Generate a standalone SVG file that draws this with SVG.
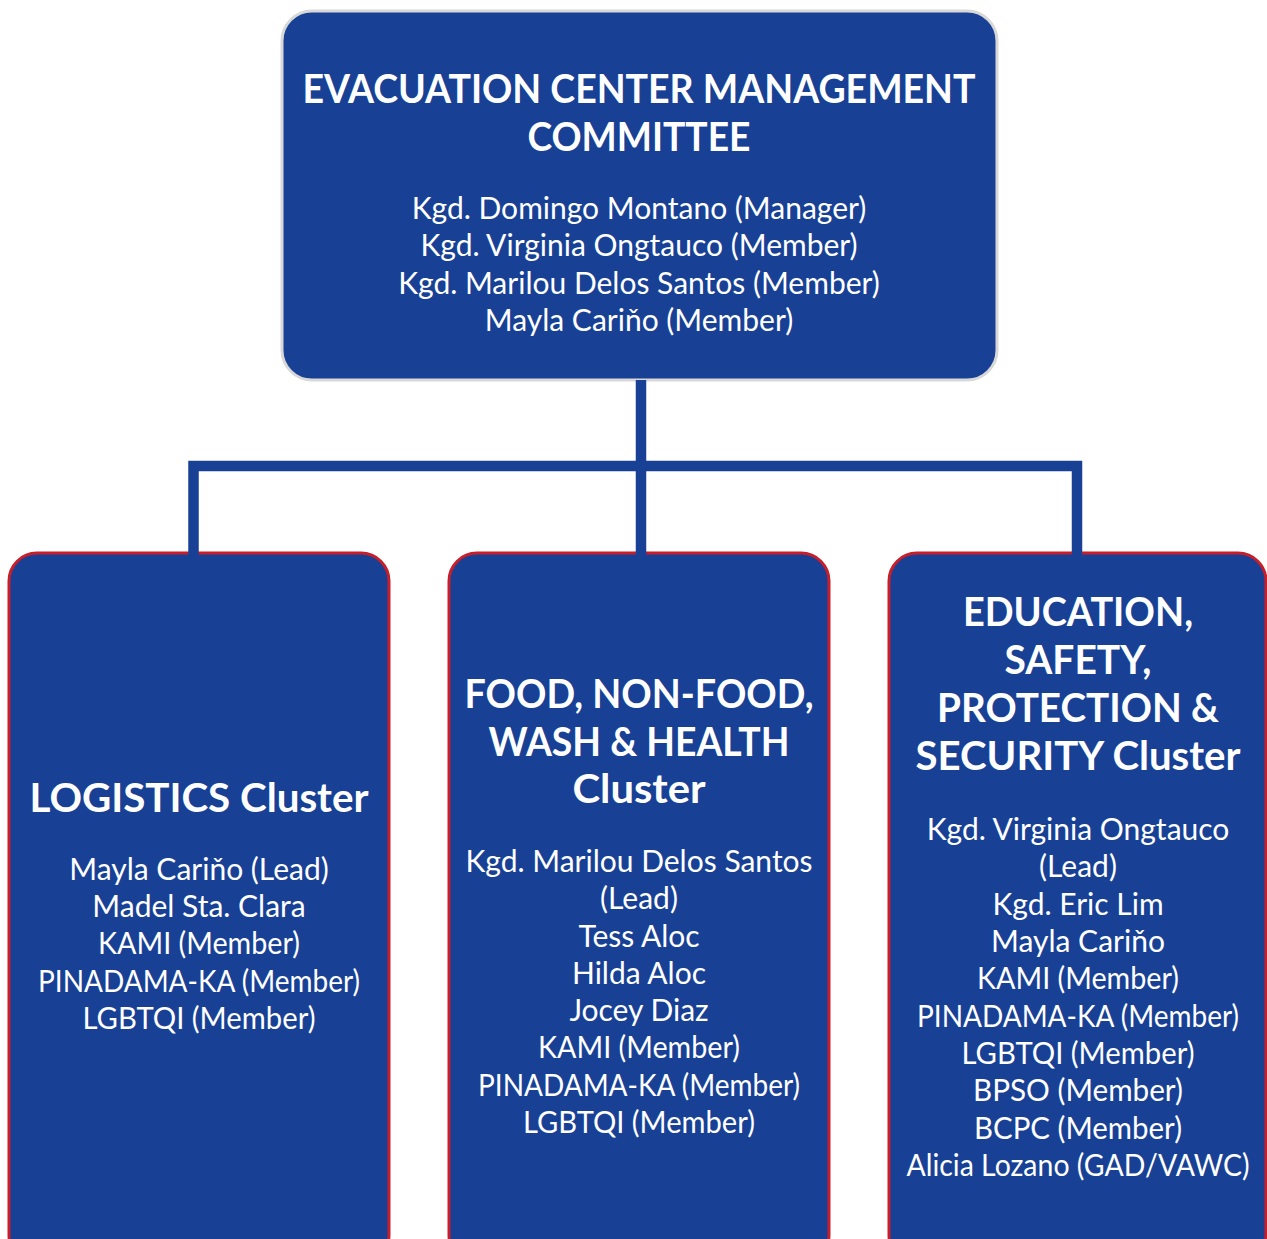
<svg xmlns="http://www.w3.org/2000/svg" width="1267" height="1239" viewBox="0 0 1267 1239">
<style>
.box{fill:#184196}
.top{stroke:#d8d8d8;stroke-width:3}
.clu{stroke:#c81e2a;stroke-width:3}
.t{font-family:Lato,"Noto Sans",sans-serif;fill:#ffffff;text-anchor:middle}
.h{font-weight:bold;font-size:40px}
.b{font-size:30px}
.conn{fill:none;stroke:#184196;stroke-width:10.5}
</style>
<rect width="1267" height="1239" fill="#ffffff"/>
<g id="node-top">
<rect class="box top" x="282" y="11" width="715" height="369" rx="30"/>
<text class="t h" x="639" y="103" textLength="673" lengthAdjust="spacingAndGlyphs">EVACUATION CENTER MANAGEMENT</text>
<text class="t h" x="639" y="151" textLength="223" lengthAdjust="spacingAndGlyphs">COMMITTEE</text>
<text class="t b" x="639" y="219">Kgd. Domingo Montano (Manager)</text>
<text class="t b" x="639" y="256">Kgd. Virginia Ongtauco (Member)</text>
<text class="t b" x="639" y="294">Kgd. Marilou Delos Santos (Member)</text>
<text class="t b" x="639" y="331">Mayla Cariňo (Member)</text>
</g>
<g id="node-logistics">
<rect class="box clu" x="9" y="553" width="380" height="710" rx="28"/>
<text class="t h" x="199" y="812" textLength="339" lengthAdjust="spacingAndGlyphs">LOGISTICS Cluster</text>
<text class="t b" x="199" y="880">Mayla Cariňo (Lead)</text>
<text class="t b" x="199" y="917">Madel Sta. Clara</text>
<text class="t b" x="199" y="954" textLength="202" lengthAdjust="spacingAndGlyphs">KAMI (Member)</text>
<text class="t b" x="199" y="992" textLength="322" lengthAdjust="spacingAndGlyphs">PINADAMA-KA (Member)</text>
<text class="t b" x="199" y="1029" textLength="233" lengthAdjust="spacingAndGlyphs">LGBTQI (Member)</text>
</g>
<g id="node-food">
<rect class="box clu" x="449" y="553" width="380" height="710" rx="28"/>
<text class="t h" x="639" y="708" textLength="349" lengthAdjust="spacingAndGlyphs">FOOD, NON-FOOD,</text>
<text class="t h" x="639" y="756" textLength="301" lengthAdjust="spacingAndGlyphs">WASH &amp; HEALTH</text>
<text class="t h" x="639" y="803" textLength="133" lengthAdjust="spacingAndGlyphs">Cluster</text>
<text class="t b" x="639" y="872">Kgd. Marilou Delos Santos</text>
<text class="t b" x="639" y="909">(Lead)</text>
<text class="t b" x="639" y="947">Tess Aloc</text>
<text class="t b" x="639" y="984">Hilda Aloc</text>
<text class="t b" x="639" y="1021">Jocey Diaz</text>
<text class="t b" x="639" y="1058" textLength="202" lengthAdjust="spacingAndGlyphs">KAMI (Member)</text>
<text class="t b" x="639" y="1096" textLength="322" lengthAdjust="spacingAndGlyphs">PINADAMA-KA (Member)</text>
<text class="t b" x="639" y="1133" textLength="232" lengthAdjust="spacingAndGlyphs">LGBTQI (Member)</text>
</g>
<g id="node-education">
<rect class="box clu" x="889" y="553" width="377" height="710" rx="28"/>
<text class="t h" x="1078" y="626" textLength="230" lengthAdjust="spacingAndGlyphs">EDUCATION,</text>
<text class="t h" x="1078" y="674" textLength="147" lengthAdjust="spacingAndGlyphs">SAFETY,</text>
<text class="t h" x="1078" y="722" textLength="282" lengthAdjust="spacingAndGlyphs">PROTECTION &amp;</text>
<text class="t h" x="1078" y="770" textLength="325" lengthAdjust="spacingAndGlyphs">SECURITY Cluster</text>
<text class="t b" x="1078" y="840">Kgd. Virginia Ongtauco</text>
<text class="t b" x="1078" y="877">(Lead)</text>
<text class="t b" x="1078" y="915">Kgd. Eric Lim</text>
<text class="t b" x="1078" y="952">Mayla Cariňo</text>
<text class="t b" x="1078" y="989" textLength="202" lengthAdjust="spacingAndGlyphs">KAMI (Member)</text>
<text class="t b" x="1078" y="1027" textLength="322" lengthAdjust="spacingAndGlyphs">PINADAMA-KA (Member)</text>
<text class="t b" x="1078" y="1064" textLength="233" lengthAdjust="spacingAndGlyphs">LGBTQI (Member)</text>
<text class="t b" x="1078" y="1101" textLength="210" lengthAdjust="spacingAndGlyphs">BPSO (Member)</text>
<text class="t b" x="1078" y="1139" textLength="208" lengthAdjust="spacingAndGlyphs">BCPC (Member)</text>
<text class="t b" x="1078" y="1176" textLength="343" lengthAdjust="spacingAndGlyphs">Alicia Lozano (GAD/VAWC)</text>
</g>
<g id="connectors">
<path class="conn" d="M641 380 V555"/>
<path class="conn" d="M193.5 556 V466 H1077 V556"/>
</g>
</svg>
